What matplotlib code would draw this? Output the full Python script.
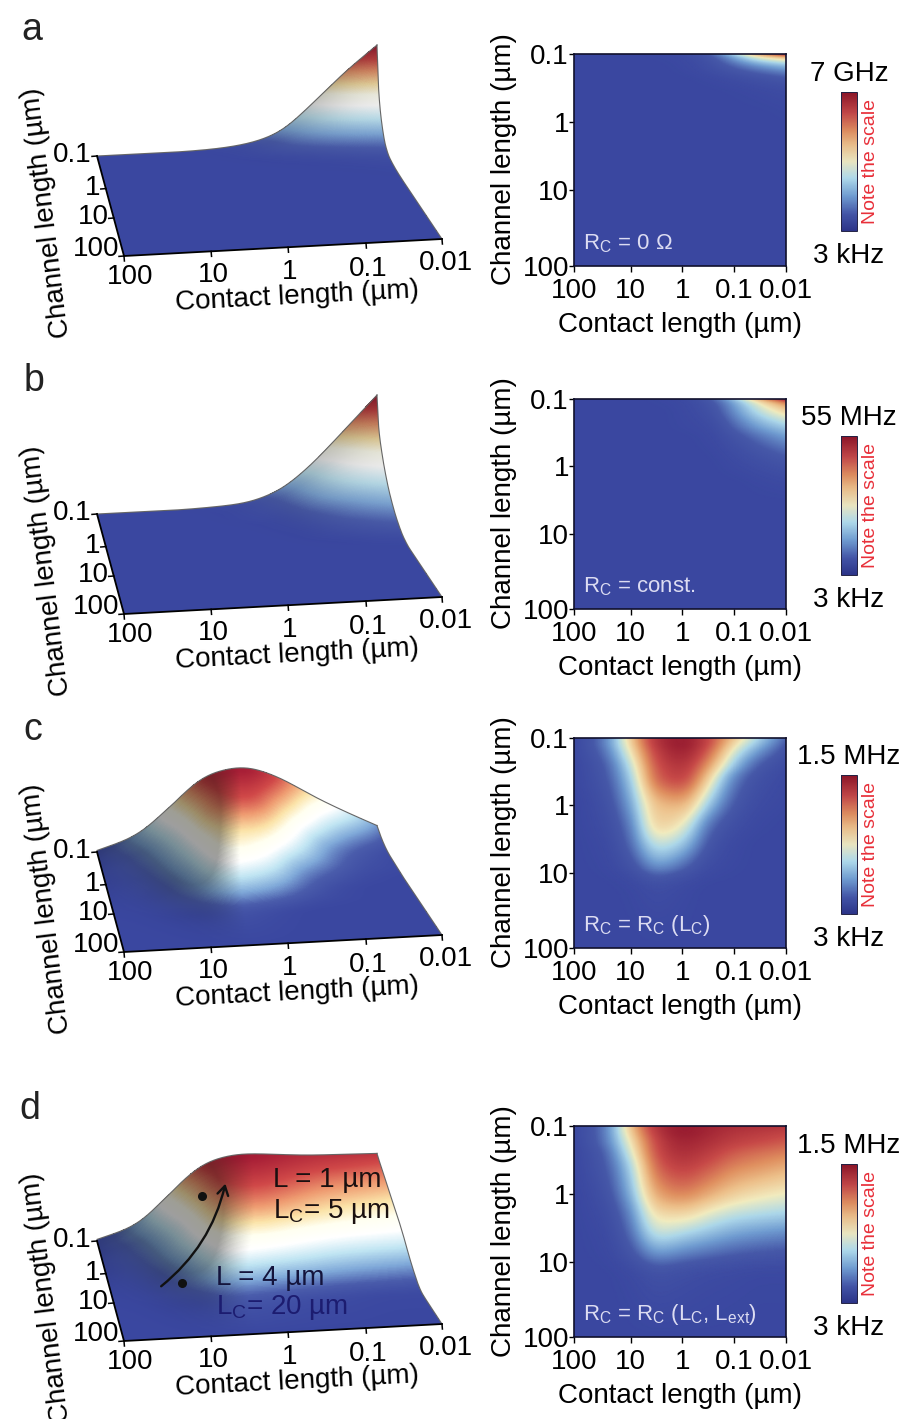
import numpy as np
import matplotlib
matplotlib.use("Agg")
import matplotlib.pyplot as plt
from matplotlib.colors import LinearSegmentedColormap
from matplotlib.cm import ScalarMappable
from matplotlib.patches import FancyArrowPatch

plt.rcParams['font.family'] = ['Liberation Sans', 'DejaVu Sans']
plt.rcParams['mathtext.fontset'] = 'custom'
plt.rcParams['mathtext.rm'] = 'Liberation Sans'
plt.rcParams['mathtext.it'] = 'Liberation Sans'
plt.rcParams['mathtext.default'] = 'rm'

# ---------- data (normalised response, 0 = 3 kHz, 1 = top of each scale) ----------
contact_nodes = [100, 30, 10, 3, 1, 0.3, 0.1, 0.03, 0.01]
channel_nodes = [0.1, 0.12, 0.17, 0.26, 0.4, 1, 2, 4, 8, 16, 100]

response_a = [
    [0, 0, 0, .01, .04, .14, .41, .74, 1],
    [0, 0, 0, .005, .02, .09, .26, .46, .56],
    [0, 0, 0, 0, .01, .05, .12, .20, .26],
    [0, 0, 0, 0, 0, .01, .03, .06, .09],
    [0, 0, 0, 0, 0, 0, .005, .015, .03],
    [0, 0, 0, 0, 0, 0, 0, 0, .004],
    [0, 0, 0, 0, 0, 0, 0, 0, 0],
    [0, 0, 0, 0, 0, 0, 0, 0, 0],
    [0, 0, 0, 0, 0, 0, 0, 0, 0],
    [0, 0, 0, 0, 0, 0, 0, 0, 0],
    [0, 0, 0, 0, 0, 0, 0, 0, 0],
]
response_b = [
    [0, 0, 0, .01, .03, .13, .36, .69, 1],
    [0, 0, 0, .005, .02, .09, .28, .52, .72],
    [0, 0, 0, 0, .015, .06, .22, .40, .52],
    [0, 0, 0, 0, .01, .03, .15, .28, .36],
    [0, 0, 0, 0, 0, .015, .08, .17, .24],
    [0, 0, 0, 0, 0, 0, .02, .05, .08],
    [0, 0, 0, 0, 0, 0, 0, .01, .02],
    [0, 0, 0, 0, 0, 0, 0, 0, 0],
    [0, 0, 0, 0, 0, 0, 0, 0, 0],
    [0, 0, 0, 0, 0, 0, 0, 0, 0],
    [0, 0, 0, 0, 0, 0, 0, 0, 0],
]
response_c = [
    [.02, .19, .58, .93, 1, .85, .60, .36, .16],
    [.02, .19, .56, .92, 1, .84, .55, .32, .13],
    [.02, .16, .50, .88, .97, .78, .45, .22, .08],
    [.01, .12, .42, .84, .92, .68, .34, .12, .04],
    [.01, .10, .36, .80, .87, .56, .22, .07, .02],
    [0, .06, .27, .63, .65, .34, .12, .03, .01],
    [0, .04, .20, .57, .50, .18, .06, .01, 0],
    [0, .02, .15, .42, .34, .10, .02, 0, 0],
    [0, .01, .08, .25, .17, .04, .01, 0, 0],
    [0, 0, .01, .05, .02, 0, 0, 0, 0],
    [0, 0, 0, 0, 0, 0, 0, 0, 0],
]
response_d = [
    [.02, .18, .60, .93, 1, .97, .94, .93, .92],
    [.02, .18, .58, .91, 1, .96, .92, .90, .88],
    [.02, .17, .52, .87, .97, .93, .88, .85, .82],
    [.01, .13, .45, .84, .93, .88, .81, .77, .74],
    [.01, .11, .38, .80, .88, .82, .74, .70, .66],
    [0, .07, .30, .68, .74, .66, .58, .53, .50],
    [0, .04, .22, .55, .56, .48, .42, .39, .37],
    [0, .02, .16, .42, .38, .32, .27, .24, .22],
    [0, .01, .09, .24, .20, .16, .13, .11, .10],
    [0, 0, .02, .07, .05, .03, .02, .01, .01],
    [0, 0, 0, 0, 0, 0, 0, 0, 0],
]
tables = [response_a, response_b, response_c, response_d]
panel_letters = ['a', 'b', 'c', 'd']
scale_tops = ['7 GHz', '55 MHz', '1.5 MHz', '1.5 MHz']
scale_bottom = '3 kHz'
contact_rc = [r'R$_{\mathrm{C}}$ = 0 Ω', r'R$_{\mathrm{C}}$ = const.',
              r'R$_{\mathrm{C}}$ = R$_{\mathrm{C}}$ (L$_{\mathrm{C}}$)',
              r'R$_{\mathrm{C}}$ = R$_{\mathrm{C}}$ (L$_{\mathrm{C}}$, L$_{\mathrm{ext}}$)']
contact_ticks = [100, 10, 1, 0.1, 0.01]
contact_ticklabels = ['100', '10', '1', '0.1', '0.01']
channel_ticks = [0.1, 1, 10, 100]
channel_ticklabels = ['0.1', '1', '10', '100']
marker_channel = [0.3, 5]
marker_contact = [4.8, 14]

# ---------- layout ----------
W, H = 903, 1419
surf_offset = [0, 358, 696, 1085]
surf_height = [97, 105, 78, 80]
surf_shade = [.10, .10, .24, .24]
heat_top = [54, 399, 738, 1126]
heat_bottom = [266, 609, 948, 1337]
bar_top = [92, 436, 775, 1164]
bar_bottom = [231, 575, 914, 1303]
corner_bl, corner_br = (97, 156), (377, 142)
corner_fl, corner_fr = (124, 256), (442, 239)
surf_u_frac = [0, .274, .516, .761, 1]
surf_v_frac = [0, .326, .62, 1]
heat_x_frac = [0, .265, .51, .755, 1]
heat_y_frac = [0, .321, .643, 1]
contact_label_dy = [21, 24, 25, 26, 24]

heat_cmap = LinearSegmentedColormap.from_list('heat', [
    (0, '#3a47a0'), (.12, '#4658a8'), (.25, '#6f9bd0'), (.38, '#aed8ea'), (.5, '#f2ecc0'),
    (.62, '#edc08a'), (.72, '#e09060'), (.85, '#c84a48'), (1, '#981c30')])
bar_cmap = LinearSegmentedColormap.from_list('bar', [
    (0, '#2c3488'), (.12, '#4254a6'), (.25, '#6f9bd0'), (.38, '#aed8ea'), (.5, '#e8e4c0'),
    (.62, '#e8bc8a'), (.72, '#dc8c60'), (.85, '#c04648'), (1, '#8a1428')])
surf_cmap = LinearSegmentedColormap.from_list('surf', [
    (0, '#3a47a0'), (.08, '#4a5cab'), (.18, '#7fa8d8'), (.3, '#bfe4f2'), (.42, '#ffffff'),
    (.52, '#fffff0'), (.62, '#fbe3a8'), (.74, '#ee9a70'), (.86, '#d04848'), (1, '#a31a34')])


def pchip(x, y, xi):
    x, y = np.asarray(x, float), np.asarray(y, float)
    h = np.diff(x)
    d = np.diff(y) / h
    m = np.zeros_like(y)
    m[0], m[-1] = d[0], d[-1]
    for i in range(1, len(y) - 1):
        if d[i - 1] * d[i] > 0:
            w1, w2 = 2 * h[i] + h[i - 1], h[i] + 2 * h[i - 1]
            m[i] = (w1 + w2) / (w1 / d[i - 1] + w2 / d[i])
    k = np.clip(np.searchsorted(x, xi) - 1, 0, len(h) - 1)
    t = (xi - x[k]) / h[k]
    return ((2 * t**3 - 3 * t**2 + 1) * y[k] + (t**3 - 2 * t**2 + t) * h[k] * m[k]
            + (-2 * t**3 + 3 * t**2) * y[k + 1] + (t**3 - t**2) * h[k] * m[k + 1])


def blur(A, sigma, axis):
    """Gaussian blur with odd reflection, so that the edge values stay where they are."""
    r = int(3 * sigma)
    kernel = np.exp(-.5 * (np.arange(-r, r + 1) / sigma) ** 2)
    kernel /= kernel.sum()
    A = np.moveaxis(A, axis, 0)
    top = 2 * A[0] - A[r:0:-1]
    bottom = 2 * A[-1] - A[-2:-r - 2:-1]
    P = np.concatenate([top, A, bottom], axis=0)
    out = np.apply_along_axis(lambda s: np.convolve(s, kernel, mode='valid'), 0, P)
    return np.moveaxis(out, 0, axis)


nx, nv = 280, 480
xc = -np.log10(contact_nodes)
yc = np.log10(channel_nodes)
xf = np.linspace(-2, 2, nx)
yf = -1 + 3 * np.linspace(0, 1, nv) ** 2


def refine(tab):
    tab = np.asarray(tab, float)
    a = np.array([pchip(yc, tab[:, j], yf) for j in range(tab.shape[1])]).T
    z = np.array([pchip(xc, a[i], xf) for i in range(nv)])
    z = blur(z, 11, 1)
    z = blur(z, 6, 0)
    return np.clip(z, 0, 1)


tick_x = [-2, -1, 0, 1, 2]
tick_y = [-1, 0, 1, 2]


def project(u, v, z, off, height):
    px = (1 - v) * ((1 - u) * corner_bl[0] + u * corner_br[0]) + v * ((1 - u) * corner_fl[0] + u * corner_fr[0])
    py = (1 - v) * ((1 - u) * corner_bl[1] + u * corner_br[1]) + v * ((1 - u) * corner_fl[1] + u * corner_fr[1])
    return px, py + off - height * z


fig = plt.figure(figsize=(W / 100, H / 100), dpi=100, facecolor='white')
ax = fig.add_axes([0, 0, 1, 1], zorder=5)
ax.set_xlim(0, W)
ax.set_ylim(H, 0)
ax.axis('off')
ax.patch.set_alpha(0)

FS = 20
surf_u = np.interp(xf, tick_x, surf_u_frac)
surf_v = np.interp(yf, tick_y, surf_v_frac)
UU, VV = np.meshgrid(surf_u, surf_v)
heat_x_up = [1 - f for f in heat_x_frac]

for p, tab in enumerate(tables):
    Z = refine(tab)
    off, hgt = surf_offset[p], surf_height[p]

    # ---- perspective surface ----
    X, Y = project(UU, VV, Z, off, hgt)
    rgb = surf_cmap(Z)
    slope = np.gradient(Z, surf_u, axis=1)
    slope = blur(blur(slope, 14, 1), 30, 0)
    s = np.clip(surf_shade[p] * slope, 0, .38)[..., None]
    rgb[..., :3] = rgb[..., :3] * (1 - s)
    C = .25 * (rgb[:-1, :-1] + rgb[1:, :-1] + rgb[:-1, 1:] + rgb[1:, 1:])
    ax.pcolormesh(X, Y, C, shading='flat', antialiased=False, zorder=1)
    ax.plot(X[0], Y[0], color='#666666', lw=.8, zorder=2)
    ax.plot(X[:, -1], Y[:, -1], color='#666666', lw=.8, zorder=2)

    # front / left axes of the surface
    fx, fy = project(surf_u, np.ones_like(surf_u), 0 * surf_u, off, hgt)
    ax.plot(fx, fy, color='k', lw=1.3, zorder=3)
    lx, ly = project(0 * surf_v, surf_v, 0 * surf_v, off, hgt)
    ax.plot(lx, ly, color='k', lw=1.3, zorder=3)
    for lab, uf, dy in zip(contact_ticklabels, surf_u_frac, contact_label_dy):
        tx, ty = project(uf, 1.0, 0.0, off, hgt)
        ax.plot([tx, tx + .4], [ty, ty + 5], color='k', lw=1.1, zorder=3)
        dx = 6 if lab == '100' else 4 if lab == '0.01' else 2
        ax.text(tx + dx, ty + dy, lab, fontsize=FS, ha='center', va='center', zorder=4)
    for lab, vf in zip(channel_ticklabels, surf_v_frac):
        tx, ty = project(0.0, vf, 0.0, off, hgt)
        ax.plot([tx - 5, tx], [ty + .4, ty], color='k', lw=1.1, zorder=3)
        ax.text(tx - 5, ty - (7 if lab == '100' else 1), lab, fontsize=FS, ha='right', va='center', zorder=4)
    ax.text(297, 297 + off, 'Contact length (µm)', fontsize=FS, rotation=3, rotation_mode='anchor',
            ha='center', va='center', zorder=4)
    ax.text(47, 213 + off, 'Channel length (µm)', fontsize=FS, rotation=97, rotation_mode='anchor',
            ha='center', va='center', zorder=4)

    # ---- heat map ----
    y0, y1 = heat_top[p], heat_bottom[p]
    h = fig.add_axes([574.5 / W, 1 - y1 / H, 211.5 / W, (y1 - y0) / H], zorder=2)
    h.set_xscale('function', functions=(
        lambda v: np.interp(np.log10(np.maximum(v, 1e-9)), tick_x, heat_x_up[::-1]),
        lambda f: 10.0 ** np.interp(f, heat_x_up[::-1], tick_x)))
    h.set_yscale('function', functions=(
        lambda v: np.interp(np.log10(np.maximum(v, 1e-9)), tick_y, heat_y_frac),
        lambda f: 10.0 ** np.interp(f, heat_y_frac, tick_y)))
    h.pcolormesh(10.0 ** (-xf), 10.0 ** yf, Z, shading='gouraud', cmap=heat_cmap, vmin=0, vmax=1)
    h.set_xticks(contact_ticks, contact_ticklabels, fontsize=FS)
    h.set_yticks(channel_ticks, channel_ticklabels, fontsize=FS)
    h.set_xlim(100, 0.01)
    h.set_ylim(100, 0.1)
    h.minorticks_off()
    h.tick_params(axis='x', length=4, width=1, pad=4.5)
    h.tick_params(axis='y', length=3.5, width=1, pad=0.5)
    for sp in h.spines.values():
        sp.set_linewidth(1.2)
        sp.set_color('#10102c')
    h.text(.04, .105, contact_rc[p], transform=h.transAxes, color='#dcdcf2', fontsize=16, ha='left', va='center')
    ax.text(680, y1 + 59, 'Contact length (µm)', fontsize=FS, ha='center', va='center')
    ax.text(504, (y0 + y1) / 2 - .5, 'Channel length (µm)', fontsize=FS, rotation=90, ha='center', va='center')

    # ---- colour scale ----
    b0, b1 = bar_top[p], bar_bottom[p]
    cax = fig.add_axes([841 / W, 1 - b1 / H, 16 / W, (b1 - b0) / H], zorder=2)
    cb = fig.colorbar(ScalarMappable(cmap=bar_cmap), cax=cax)
    cb.set_ticks([])
    cb.outline.set_linewidth(.7)
    cb.outline.set_edgecolor('#222244')
    ax.text(849, b0 - 18, scale_tops[p], fontsize=FS, ha='center', va='center')
    ax.text(849, b1 + 25, scale_bottom, fontsize=FS, ha='center', va='center')
    ax.text(871, (b0 + b1) / 2, 'Note the scale', fontsize=14, color='#e8303a', rotation=90, ha='center', va='center')

ax.text(32, 30, panel_letters[0], fontsize=27, ha='center', va='center', color='#222222')
ax.text(34, 381, panel_letters[1], fontsize=27, ha='center', va='center', color='#222222')
ax.text(33, 730, panel_letters[2], fontsize=27, ha='center', va='center', color='#222222')
ax.text(30, 1109, panel_letters[3], fontsize=27, ha='center', va='center', color='#222222')

# annotations of panel d
Zd = refine(response_d)
for L_, Lc_ in zip(marker_channel, marker_contact):
    xi, yi = -np.log10(Lc_), np.log10(L_)
    zi = Zd[np.argmin(abs(yf - yi)), np.argmin(abs(xf - xi))]
    px, py = project(np.interp(xi, tick_x, surf_u_frac), np.interp(yi, tick_y, surf_v_frac), zi,
                     surf_offset[3], surf_height[3])
    ax.plot(px, py, 'o', color='#111111', ms=5.5, zorder=6)
ax.add_patch(FancyArrowPatch((159, 1288), (226, 1181), connectionstyle='arc3,rad=0.18',
                             arrowstyle='->,head_length=5,head_width=3', lw=1.7, color='#111111',
                             mutation_scale=1.3, zorder=6))
ax.text(273, 1180, 'L = 1 µm', fontsize=20, va='center', ha='left', color='#1a1010', zorder=6)
ax.text(273, 1211, r'L$_{\mathrm{C}}$= 5 µm', fontsize=20, va='center', ha='left', color='#1a1010', zorder=6)
ax.text(216, 1278, 'L = 4 µm', fontsize=20, va='center', ha='left', color='#14143c', zorder=6)
ax.text(216, 1308, r'L$_{\mathrm{C}}$= 20 µm', fontsize=20, va='center', ha='left', color='#1c1c70', zorder=6)

fig.savefig('out.png', dpi=100, facecolor='white')
